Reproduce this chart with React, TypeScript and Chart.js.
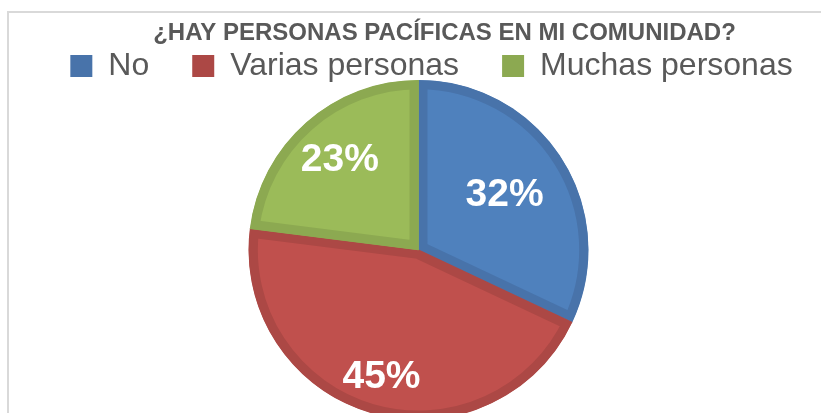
import React, { useEffect, useRef } from "react";
import { Chart, registerables } from "chart.js";

Chart.register(...registerables);

const categories = ["No", "Varias personas", "Muchas personas"];
const values = [32, 45, 23];
const titleText = "¿HAY PERSONAS PACÍFICAS EN MI COMUNIDAD?";

const fillColors = ["#4F81BD", "#C0504D", "#9BBB59"];
const borderColors = ["#4873AA", "#AC4845", "#8CA951"];
const labelRadiusFactors = [0.6, 0.78, 0.7];

const sliceLabels = {
  id: "sliceLabels",
  afterDatasetsDraw(chart: any) {
    const meta = chart.getDatasetMeta(0);
    const ctx = chart.ctx;
    ctx.save();
    ctx.fillStyle = "#FFFFFF";
    ctx.font = "bold 39px 'Liberation Sans', Arial, sans-serif";
    ctx.textAlign = "center";
    ctx.textBaseline = "middle";
    meta.data.forEach((arc: any, i: number) => {
      const p = arc.getProps(["x", "y", "startAngle", "endAngle", "outerRadius"], true);
      const mid = (p.startAngle + p.endAngle) / 2;
      const r = p.outerRadius * labelRadiusFactors[i];
      const v = chart.data.datasets[0].data[i];
      ctx.fillText(v + "%", p.x + Math.cos(mid) * r, p.y + Math.sin(mid) * r);
    });
    ctx.restore();
  },
};

const shiftBoxes = {
  id: "shiftBoxes",
  afterLayout(chart: any) {
    const t = chart.titleBlock;
    if (t) {
      t.left += 26;
      t.right += 26;
    }
    const l = chart.legend;
    if (l) {
      const want = 53; // canvas y of legend box centre
      const cur = l.top + 43 + 16;
      const dy = want - cur;
      l.left += 13;
      l.right += 13;
      l.top += dy;
      l.bottom += dy;
    }
  },
};

export default function App() {
  const ref = useRef<HTMLCanvasElement | null>(null);

  useEffect(() => {
    if (!ref.current) return;
    const chart = new Chart(ref.current, {
      type: "pie",
      data: {
        labels: categories,
        datasets: [
          {
            data: values,
            backgroundColor: fillColors,
            borderColor: borderColors,
            borderWidth: 9,
            borderAlign: "inner",
            radius: 170,
          } as any,
        ],
      },
      options: {
        animation: false,
        responsive: false,
        events: [],
        layout: { padding: { top: 0, left: 0, right: 0, bottom: 46 } },
        plugins: {
          tooltip: { enabled: false },
          title: {
            display: true,
            text: titleText,
            color: "#595959",
            font: { family: "'Liberation Sans', Arial, sans-serif", size: 24, weight: "bold" },
            padding: { top: 6, bottom: 0 },
          },
          legend: {
            display: true,
            position: "top",
            labels: {
              color: "#595959",
              font: { family: "'Liberation Sans', Arial, sans-serif", size: 32 },
              boxWidth: 22,
              boxHeight: 22,
              padding: 43,
              generateLabels: (c: any) => {
                const base = (Chart as any).overrides.doughnut.plugins.legend.labels.generateLabels(c);
                return base.map((it: any, i: number) => ({
                  ...it,
                  fillStyle: borderColors[i],
                  strokeStyle: borderColors[i],
                  lineWidth: 0,
                }));
              },
            },
          },
        },
      } as any,
      plugins: [sliceLabels, shiftBoxes],
    });
    return () => chart.destroy();
  }, []);

  return (
    <div
      style={{
        position: "fixed",
        left: 0,
        top: 0,
        width: 821,
        height: 413,
        overflow: "hidden",
        background: "#FFFFFF",
      }}
    >
      <div
        style={{
          position: "absolute",
          left: 7,
          top: 11,
          width: 840,
          height: 460,
          border: "2px solid #D9D9D9",
          boxSizing: "border-box",
        }}
      />
      <canvas
        ref={ref}
        width={819}
        height={400}
        style={{ position: "absolute", left: 9, top: 13, width: 819, height: 400 }}
      />
    </div>
  );
}
